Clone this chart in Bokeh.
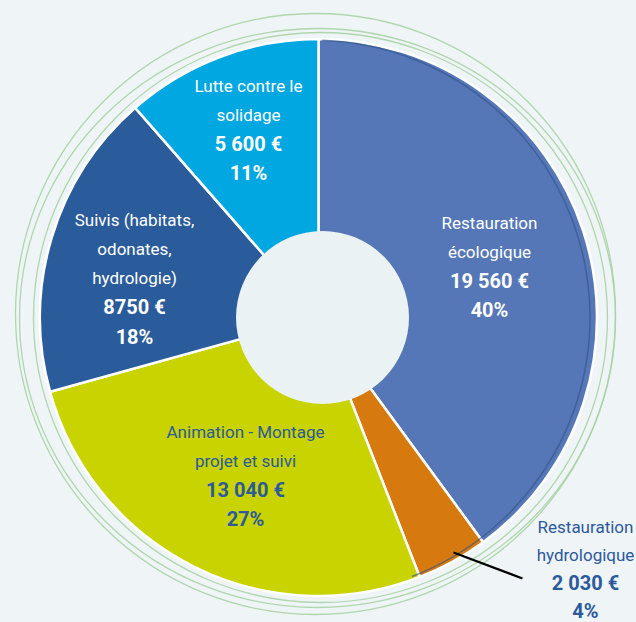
import numpy as np
from bokeh.plotting import figure
from bokeh.models import Range1d, ColumnDataSource
from bokeh.core.properties import value
from bokeh.embed import file_html
from bokeh.resources import INLINE

# ---------------- data ----------------
categories = ["Restauration écologique", "Restauration hydrologique",
              "Animation - Montage projet et suivi",
              "Suivis (habitats, odonates, hydrologie)", "Lutte contre le solidage"]
amounts = [19560, 2030, 13040, 8750, 5600]
amount_labels = ["19 560 €", "2 030 €", "13 040 €", "8750 €", "5 600 €"]
name_lines = [["Restauration", "écologique"],
              ["Restauration", "hydrologique"],
              ["Animation - Montage", "projet et suivi"],
              ["Suivis (habitats,", "odonates,", "hydrologie)"],
              ["Lutte contre le", "solidage"]]

# ---------------- style / layout ----------------
W, H = 636, 622
BG = "#eff4f7"
HOLE = "#eaf2f4"
slice_colors = ["#5577b7", "#d67a10", "#c8d300", "#2a5b9a", "#00a7e1"]
text_colors = ["white", "#2c5a9b", "#2c5a9b", "white", "white"]
label_anchor = [(489, 222), (585, 526), (245, 431), (134, 219), (248, 85)]  # screen px (x, first line y)
line_steps = [29.3, 28.0, 29.3, 29.3, 29.3]
FONT = "Roboto"
FS_N = "17px"
FS_B = "20px"
CX, CY, R = 318, 317, 278.5
HX, HY, HR = 322, 317, 86.5


def Y(sy):
    return H - sy


total = float(sum(amounts))
fracs = np.array(amounts) / total
cum = np.concatenate([[0], np.cumsum(fracs)])
start = np.pi / 2 - 2 * np.pi * cum[:-1]
end = np.pi / 2 - 2 * np.pi * cum[1:]
pct_labels = [f"{int(round(100 * f))}%" for f in fracs]

p = figure(width=W, height=H, x_range=Range1d(0, W), y_range=Range1d(0, H),
           output_backend="svg", toolbar_location=None, min_border=0,
           x_axis_type=None, y_axis_type=None,
           background_fill_color=BG, border_fill_color=BG, outline_line_color=None)
p.grid.visible = False

# hand-drawn green rings
p.ellipse(x=[315, 317, 320], y=[Y(313.5), Y(317.5), Y(317)],
          width=[600, 596, 574], height=[601, 579, 570],
          fill_color=None, line_color="#a8d3a5", line_width=1.3, line_alpha=0.9)

src = ColumnDataSource(dict(cat=categories, start=start, end=end, color=slice_colors))
p.wedge(x=CX, y=Y(CY), radius=R, start_angle="start", end_angle="end",
        direction="clock", fill_color="color", line_color="white",
        line_width=2.5, source=src)

# darker rim shadow on the right side
p.arc(x=312, y=Y(317), radius=277.5, start_angle=np.radians(-69), end_angle=np.radians(88),
      line_color="#33558a", line_alpha=0.65, line_width=1.5)

# hole
p.circle(x=HX, y=Y(HY), radius=HR, fill_color=HOLE, line_color=None)

# leader line for small slice
p.line(x=[453, 522], y=[Y(552), Y(578)], line_color="black", line_width=2.3)

# labels
norm = dict(x=[], y=[], t=[], c=[])
bold = dict(x=[], y=[], t=[], c=[])
for i in range(len(categories)):
    ax, ay = label_anchor[i]
    step = line_steps[i]
    k = 0
    for ln in name_lines[i]:
        norm["x"].append(ax); norm["y"].append(Y(ay + k * step)); norm["t"].append(ln); norm["c"].append(text_colors[i])
        k += 1
    for ln in (amount_labels[i], pct_labels[i]):
        bold["x"].append(ax); bold["y"].append(Y(ay + k * step)); bold["t"].append(ln); bold["c"].append(text_colors[i])
        k += 1

p.text(x="x", y="y", text="t", text_color="c", source=ColumnDataSource(norm),
       text_font=value(FONT), text_font_size=FS_N, text_align="center", text_baseline="middle")
p.text(x="x", y="y", text="t", text_color="c", source=ColumnDataSource(bold),
       text_font=value(FONT), text_font_size=FS_B, text_font_style="bold",
       text_align="center", text_baseline="middle")

tmpl = """{% block preamble %}<style>html,body{margin:0;padding:0;background:#eff4f7;overflow:hidden;}</style>{% endblock %}"""
try:
    html = file_html(p, INLINE, template=tmpl)
except Exception:
    html = file_html(p, INLINE)
open("out.html", "w").write(html)
